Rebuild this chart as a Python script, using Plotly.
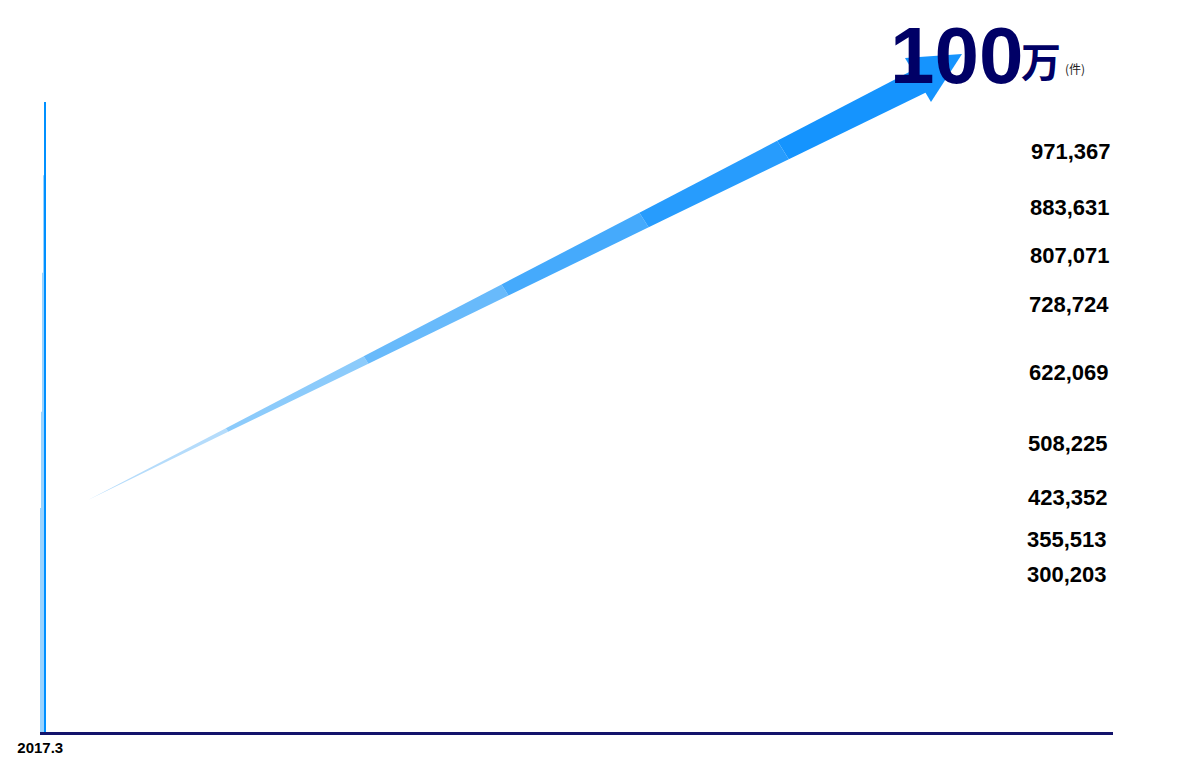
import plotly.graph_objects as go

categories = ["2017.3", "2018.3", "2019.3", "2020.3", "2021.3", "2022.3", "2023.3", "2024.3", "2025.3", "2025.9"]
values = [300203, 355513, 423352, 508225, 622069, 728724, 807071, 883631, 971367, 1000000]
labels = ["300,203", "355,513", "423,352", "508,225", "622,069", "728,724", "807,071", "883,631", "971,367", ""]
colors = ["#99d3ff"] * 8 + ["#66bbff", "#0090ff"]

L, R, T, B = 32, 95, 0, 41
W, H = 1200, 765
pw, ph = W - L - R, H - T - B


def px(x, y):
    return (x - L) / pw, 1 - (y - T) / ph


fig = go.Figure(go.Bar(x=categories, y=values, marker_color=colors, marker_line_width=0, width=0.72))

for c, v, t in zip(categories, values, labels):
    if t:
        fig.add_annotation(x=c, y=v, text="<b>%s</b>" % t, showarrow=False, yanchor="middle", yshift=-32,
                           font=dict(size=22, color="#000000", family="Liberation Sans, Arial"))

# tapered arrow, split into pieces to fake the gradient
tail = (80, 492)
up, lo = (907, 61), (921, 83)
n = 6
shade = ["#b5dcfb", "#8ccbfb", "#68bafb", "#45aafc", "#279cfd", "#1594fe"]
for i in range(n):
    a, b = i / n, (i + 1) / n
    pts = [
        (tail[0] + (up[0] - tail[0]) * a, tail[1] + (up[1] - tail[1]) * a),
        (tail[0] + (up[0] - tail[0]) * b, tail[1] + (up[1] - tail[1]) * b),
        (tail[0] + (lo[0] - tail[0]) * b, tail[1] + (lo[1] - tail[1]) * b),
        (tail[0] + (lo[0] - tail[0]) * a, tail[1] + (lo[1] - tail[1]) * a),
    ]
    d = "M " + " L ".join("%f,%f" % px(*p) for p in pts) + " Z"
    fig.add_shape(type="path", path=d, xref="x domain", yref="y domain",
                  fillcolor=shade[i], line_width=0, layer="below")
head = [(897, 50), (954, 46), (923, 94)]
fig.add_shape(type="path", path="M " + " L ".join("%f,%f" % px(*p) for p in head) + " Z",
              xref="x domain", yref="y domain", fillcolor="#1594fe", line_width=0)

fig.add_annotation(xref="paper", yref="paper", x=1025 / W, y=1 - 50 / H,
                   text="<b>100</b>", showarrow=False, xanchor="center", yanchor="middle",
                   font=dict(size=80, color="#000066", family="Liberation Sans Narrow, Arial"))
fig.add_annotation(xref="paper", yref="paper", x=1120 / W, y=1 - 55 / H, text="<b>万</b>", showarrow=False,
                   xanchor="center", yanchor="middle",
                   font=dict(size=40, color="#000066", family="Noto Sans CJK JP"))
fig.add_annotation(xref="paper", yref="paper", x=1157 / W, y=1 - 64 / H, text="(件)", showarrow=False,
                   xanchor="center", yanchor="middle",
                   font=dict(size=12, color="#222222", family="Noto Sans CJK JP"))

fig.update_layout(
    width=W, height=H, margin=dict(l=L, r=R, t=T, b=B),
    plot_bgcolor="white", paper_bgcolor="white", showlegend=False, bargap=0.28,
)
fig.update_xaxes(type="category", showline=True, linecolor="#13136b", linewidth=3, ticks="", showgrid=False,
                 tickprefix="<b>", ticksuffix="</b>",
                 tickfont=dict(size=15, color="#000000", family="Liberation Sans, Arial"))
fig.update_yaxes(range=[0, 1149000], visible=False, showgrid=False)

fig.write_html("out.html")
